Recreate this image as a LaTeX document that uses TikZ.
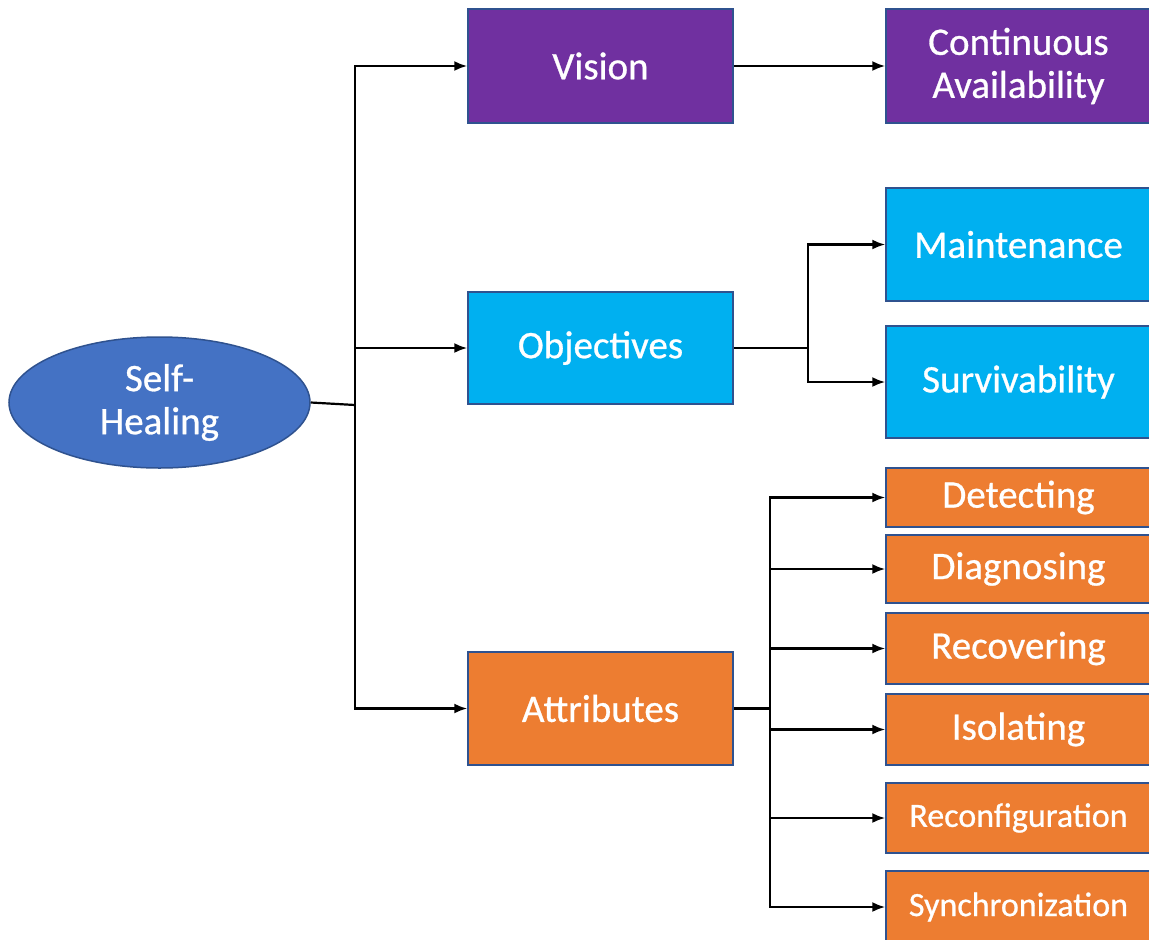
\documentclass[tikz,border=0pt]{standalone}
\usepackage{fontspec}
\setmainfont{Carlito}[FakeBold=0.7]
\usetikzlibrary{arrows.meta,shapes.geometric}
\definecolor{visionpurple}{HTML}{7030A0}
\definecolor{objcyan}{HTML}{00B0F0}
\definecolor{attrorange}{HTML}{ED7D31}
\definecolor{rootblue}{HTML}{4472C4}
\definecolor{edgeblue}{HTML}{2F528F}
\begin{document}
\begin{tikzpicture}[x=1pt,y=-1pt,
  label39/.style={font=\fontsize{39}{43}\selectfont},
  label34/.style={font=\fontsize{34}{40}\selectfont},
  box/.style={rectangle, draw=edgeblue, line width=1.5pt, inner sep=0pt,
    text=white, align=center, label39, minimum width=265pt},
  purplebox/.style={box, fill=visionpurple},
  cyanbox/.style={box, fill=objcyan},
  orangebox/.style={box, fill=attrorange},
  conn/.style={line width=2.2pt, black},
  arr/.style={conn, -{Latex[length=13pt,width=10pt]}},
]
\useasboundingbox (0,0) rectangle (1149,940);
\clip (0,0) rectangle (1149,940);

% root
\node[ellipse, draw=edgeblue, line width=1.5pt, fill=rootblue, text=white,
  align=center, label39, inner sep=0pt, minimum width=301pt, minimum height=131pt]
  (root) at (159.5,402.5) {Self-\\Healing};

% first level
\node[purplebox, minimum height=114pt] (vision) at (600.5,66) {Vision};
\node[cyanbox, minimum height=112pt] (obj) at (600.5,348) {Objectives};
\node[orangebox, minimum height=113pt] (attr) at (600.5,708.5) {Attributes};

% second level
\node[purplebox, minimum height=114pt] (avail) at (1018.5,66) {Continuous\\Availability};
\node[cyanbox, minimum height=113pt] (maint) at (1018.5,244.5) {Maintenance};
\node[cyanbox, minimum height=112pt] (surv) at (1018.5,382) {Survivability};
\node[orangebox, minimum height=59pt] (detect) at (1018.5,497.5) {Detecting};
\node[orangebox, minimum height=68pt] (diag) at (1018.5,569) {Diagnosing};
\node[orangebox, minimum height=71pt] (recover) at (1018.5,648.5) {Recovering};
\node[orangebox, minimum height=71pt] (isolate) at (1018.5,729.5) {Isolating};
\node[orangebox, minimum height=70pt, label34] (reconf) at (1018.5,818) {Reconfiguration};
\node[orangebox, minimum height=72pt, label34] (sync) at (1018.5,907) {Synchronization};

% connectors from the root
\coordinate (j1) at (355,405);
\draw[conn] (root.east) -- (j1);
\draw[arr] (j1) |- (vision.west);
\draw[arr] (j1) |- (obj.west);
\draw[arr] (j1) |- (attr.west);

% vision
\draw[arr] (vision.east) -- (avail.west);

% objectives
\coordinate (j2) at (808,348);
\draw[conn] (obj.east) -- (j2);
\draw[arr] (j2) |- (maint.west);
\draw[arr] (j2) |- (surv.west);

% attributes
\coordinate (j3) at (770,708.5);
\draw[conn] (attr.east) -- (j3);
\foreach \t in {detect,diag,recover,isolate,reconf,sync}
  \draw[arr] (j3) |- (\t.west);
\end{tikzpicture}
\end{document}
